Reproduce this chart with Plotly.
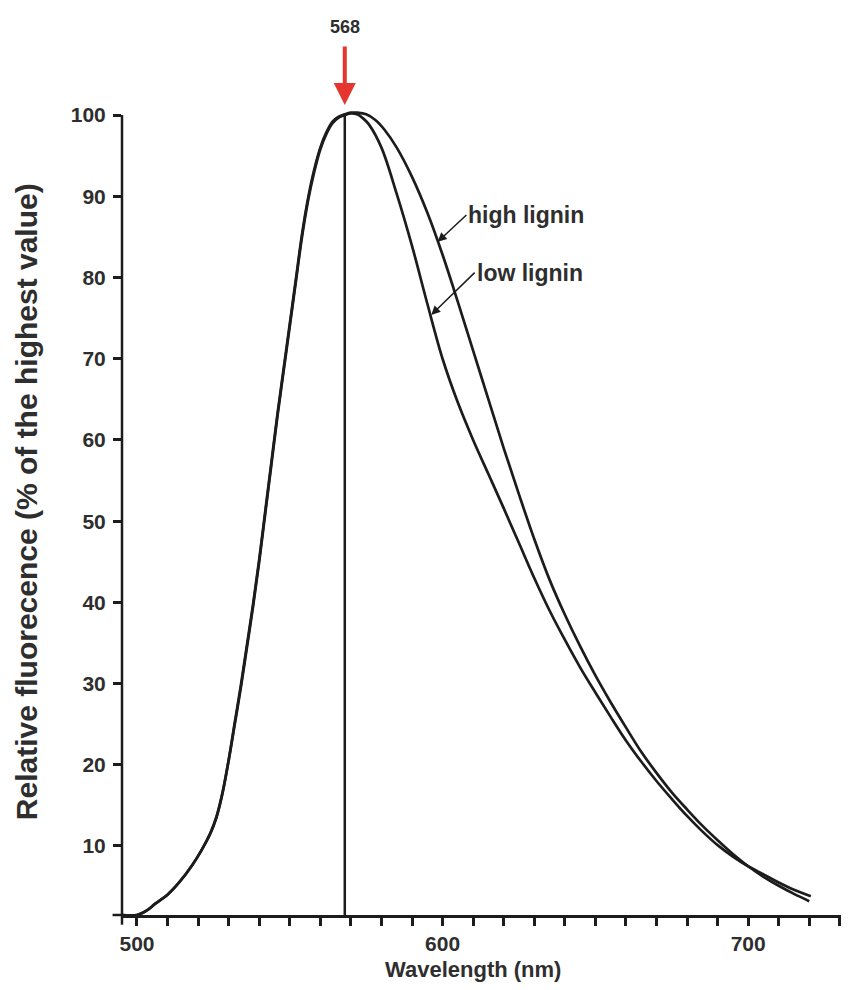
import plotly.graph_objects as go

# ======================
# DATA
# ======================
wl_low = [495, 500, 503, 506, 510, 514, 518, 521, 524, 526, 528, 530, 532, 534, 536, 538,
          540, 542, 544, 546, 548, 550, 552, 554, 556, 558, 560, 562, 564, 566, 568, 570,
          572, 574, 576, 580, 585, 590, 595, 600, 605, 610, 615, 620, 625, 630, 635,
          640, 645, 650, 655, 660, 665, 670, 675, 680, 685, 690, 695, 700, 705, 710, 715, 720.5]
fl_low = [1.5, 1.5, 2.0, 2.9, 4.0, 5.6, 7.6, 9.4, 11.5, 13.5, 16.5, 20.5, 25.0, 29.5, 34.5, 39.5,
          45.0, 51.0, 57.0, 63.0, 68.5, 74.0, 79.5, 85.0, 89.5, 93.0, 95.8, 97.7, 99.0, 99.7, 100.0, 100.2,
          100.1, 99.6, 98.8, 96.0, 90.3, 83.9, 76.8, 70.0, 64.6, 60.0, 55.8, 51.6, 47.3, 43.0, 39.0,
          35.4, 32.0, 28.9, 25.9, 23.0, 20.4, 18.0, 15.8, 13.7, 11.8, 10.1, 8.7, 7.5, 6.5, 5.5, 4.6, 3.8]

wl_high = [495, 500, 503, 506, 510, 514, 518, 521, 524, 526, 528, 530, 532, 534, 536, 538,
           540, 542, 544, 546, 548, 550, 552, 554, 556, 558, 560, 562, 564, 566, 568, 570,
           572, 575, 578, 581, 585, 590, 595, 600, 605, 610, 615, 620, 625, 630, 635,
           640, 645, 650, 655, 660, 665, 670, 675, 680, 685, 690, 695, 700, 705, 710, 715, 720]
fl_high = [1.5, 1.5, 2.0, 2.9, 4.0, 5.6, 7.6, 9.4, 11.6, 13.6, 16.6, 20.6, 25.2, 29.8, 34.8, 39.8,
           45.3, 51.3, 57.3, 63.3, 68.8, 74.3, 79.8, 85.3, 89.8, 93.3, 96.0, 97.9, 99.2, 99.8, 100.1, 100.3,
           100.3, 100.1, 99.4, 98.2, 96.0, 92.4, 88.0, 82.8, 77.0, 71.0, 65.0, 59.0, 53.3, 47.8, 42.8,
           38.5, 34.6, 31.0, 27.7, 24.6, 21.6, 19.0, 16.6, 14.5, 12.5, 10.7, 9.0, 7.5, 6.2, 5.1, 4.1, 3.2]

peak_wl = 568
x_ticks = list(range(500, 731, 10))
x_labels = [str(v) if v % 100 == 0 else "" for v in x_ticks]
y_ticks = list(range(10, 101, 10))

X_RANGE = [495.1, 733.0]
Y_RANGE = [1.5, 101.0]

INK = "#1c1c1c"
TXT = "#2e2e2e"
FONT = "Liberation Sans"

fig = go.Figure()

for wl, fl, name in [(wl_low, fl_low, "low lignin"), (wl_high, fl_high, "high lignin")]:
    fig.add_trace(
        go.Scatter(
            x=wl,
            y=fl,
            mode="lines",
            line=dict(color=INK, width=2.7, shape="spline", smoothing=1.0),
            name=name,
            showlegend=False,
        )
    )

# vertical line at peak + axis line/extensions
fig.add_shape(type="line", xref="x", yref="y", x0=peak_wl, x1=peak_wl, y0=Y_RANGE[0], y1=100.2,
              line=dict(color=INK, width=2.5))
fig.add_shape(type="line", xref="paper", yref="y", x0=0, x1=0, y0=Y_RANGE[0], y1=100,
              line=dict(color=INK, width=2.5))
fig.add_shape(type="line", xref="paper", yref="paper", x0=0, x1=0, y0=0, y1=-0.012,
              line=dict(color=INK, width=2.5))
fig.add_shape(type="line", xref="paper", yref="paper", x0=-0.013, x1=0, y0=0, y1=0,
              line=dict(color=INK, width=2.5))

# red arrow + 568
fig.add_annotation(
    x=peak_wl, y=1.0025, xref="x", yref="paper",
    text=str(peak_wl), showarrow=True, ax=0, ay=-78,
    arrowhead=2, arrowsize=1.1, arrowwidth=4, arrowcolor="#e5352f",
    startstandoff=8,
    font=dict(family=FONT, size=18, color=TXT, weight="bold"),
)

# curve labels
fig.add_annotation(
    x=598.4, y=84.4, xref="x", yref="y", ax=607.8, ay=87.7, axref="x", ayref="y",
    text="high lignin", xanchor="left", showarrow=True,
    arrowhead=2, arrowsize=1.2, arrowwidth=1.5, arrowcolor=INK,
    font=dict(family=FONT, size=23, color=TXT, weight="bold"),
)
fig.add_annotation(
    x=596.3, y=75.4, xref="x", yref="y", ax=610.5, ay=80.6, axref="x", ayref="y",
    text="low lignin", xanchor="left", showarrow=True,
    arrowhead=2, arrowsize=1.2, arrowwidth=1.5, arrowcolor=INK,
    font=dict(family=FONT, size=23, color=TXT, weight="bold"),
)

# axis titles
fig.add_annotation(
    x=0.483, y=-0.068, xref="paper", yref="paper", showarrow=False,
    text="Wavelength (nm)", xanchor="center", yanchor="middle",
    font=dict(family=FONT, size=22, color=TXT, weight="bold"),
)
fig.add_annotation(
    x=-0.132, y=0.511, xref="paper", yref="paper", showarrow=False,
    text="Relative fluorecence (% of the highest value)", textangle=-90,
    xanchor="center", yanchor="middle",
    font=dict(family=FONT, size=30, color=TXT, weight="bold"),
)

# page body has an 8px margin, so the figure is sized to fit inside the window
fig.update_layout(
    width=841,
    height=974,
    margin=dict(l=114, r=0, t=99, b=67),
    paper_bgcolor="white",
    plot_bgcolor="white",
    showlegend=False,
)

fig.update_xaxes(
    range=X_RANGE,
    autorange=False,
    showgrid=False,
    zeroline=False,
    showline=True,
    linecolor=INK,
    linewidth=2.5,
    tickmode="array",
    tickvals=x_ticks,
    ticktext=x_labels,
    ticks="outside",
    ticklen=8,
    tickwidth=2.5,
    tickcolor=INK,
    tickfont=dict(family=FONT, size=21, color=TXT, weight="bold"),
)

fig.update_yaxes(
    range=Y_RANGE,
    autorange=False,
    showgrid=False,
    zeroline=False,
    showline=False,
    tickmode="array",
    tickvals=y_ticks,
    ticks="outside",
    ticklen=8,
    tickwidth=2.5,
    tickcolor=INK,
    ticklabelstandoff=3,
    tickfont=dict(family=FONT, size=21, color=TXT, weight="bold"),
)

fig.write_html("out.html")
